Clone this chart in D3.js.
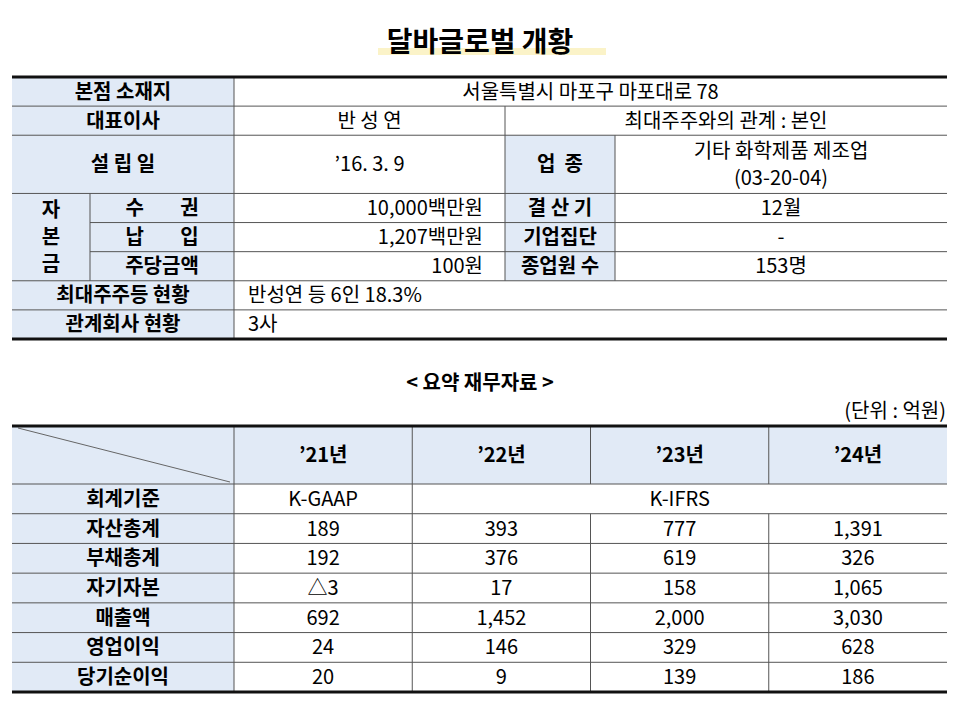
<!DOCTYPE html>
<html><head><meta charset="utf-8">
<script src="https://cdn.jsdelivr.net/npm/d3@7"></script>
<style>body{margin:0;background:#fff}svg{font-family:"Noto Sans CJK KR","Noto Sans",sans-serif}</style>
</head><body><div id="chart"></div>
<script>
const title = '달바글로벌 개황'
const subTitle = '< 요약 재무자료 >'
const unitText = '(단위 : 억원)'

// overview table: [label, value] rows
const addressRow = ['본점 소재지', '서울특별시 마포구 마포대로 78']
const ceoRow = ['대표이사', '반 성 연', '최대주주와의 관계 : 본인']
const foundRow = ['설 립 일', '’16. 3. 9', '업  종', ['기타 화학제품 제조업', '(03-20-04)']]
const capitalLabels = ['수        권', '납        입', '주당금액']
const capitalValues = ['10,000백만원', '1,207백만원', '100원']
const sideLabels = ['결 산 기', '기업집단', '종업원 수']
const sideValues = ['12월', '-', '153명']
const holderRow = ['최대주주등 현황', '반성연 등 6인 18.3%']
const affilRow = ['관계회사 현황', '3사']

// finance table
const years = ['’21년', '’22년', '’23년', '’24년']
const standards = ['K-GAAP', 'K-IFRS']
const finLabels = ['자산총계', '부채총계', '자기자본', '매출액', '영업이익', '당기순이익']
const finValues = [
  ['189', '393', '777', '1,391'],
  ['192', '376', '619', '326'],
  ['△3', '17', '158', '1,065'],
  ['692', '1,452', '2,000', '3,030'],
  ['24', '146', '329', '628'],
  ['20', '9', '139', '186']
]

const W = 960, H = 703, fill = '#e1eaf6', grid = '#555'
const svg = d3.select('#chart').append('svg').attr('width', W).attr('height', H)

// title
svg.append('rect').attr('x', 378).attr('y', 48).attr('width', 228).attr('height', 7).attr('fill', '#fbf3c8')
svg.append('text').attr('x', 480).attr('y', 52).attr('text-anchor', 'middle')
  .attr('font-size', 28).attr('font-weight', 'bold').text(title)

function cell (g, x0, x1, y0, y1, txt, opt = {}) {
  if (opt.fill) g.append('rect').attr('x', x0).attr('y', y0).attr('width', x1 - x0).attr('height', y1 - y0).attr('fill', opt.fill)
  const lines = Array.isArray(txt) ? txt : [txt]
  const anchor = opt.align || 'middle'
  const tx = anchor === 'middle' ? (x0 + x1) / 2 : anchor === 'end' ? x1 - 22 : x0 + 14
  const lh = 27
  lines.forEach((t, i) => {
    g.append('text').attr('x', tx)
      .attr('y', (y0 + y1) / 2 + (i - (lines.length - 1) / 2) * lh + 7)
      .attr('text-anchor', anchor).attr('font-size', 20)
      .attr('font-weight', opt.bold ? 'bold' : 'normal')
      .style('white-space', 'pre').text(t)
  })
}
function hline (g, x0, x1, y, w = 1) { g.append('line').attr('x1', x0).attr('x2', x1).attr('y1', y).attr('y2', y).attr('stroke', w > 1 ? '#111' : grid).attr('stroke-width', w) }
function vline (g, x, y0, y1) { g.append('line').attr('x1', x).attr('x2', x).attr('y1', y0).attr('y2', y1).attr('stroke', grid).attr('stroke-width', 1) }

// ---- table 1
const t1 = svg.append('g')
const y1 = d3.scaleLinear().domain([0, 9]).range([77, 339])
const cx = { l: 12, sub: 90, lab: 234, mid: 505, side: 615, r: 947 }
// row units: address 0-1, ceo 1-2, found 2-4, capital 4-7, holder 7-8, affil 8-9
cell(t1, cx.l, cx.lab, y1(0), y1(1), addressRow[0], { fill, bold: true })
cell(t1, cx.lab, cx.r, y1(0), y1(1), addressRow[1])
cell(t1, cx.l, cx.lab, y1(1), y1(2), ceoRow[0], { fill, bold: true })
cell(t1, cx.lab, cx.mid, y1(1), y1(2), ceoRow[1])
cell(t1, cx.mid, cx.r, y1(1), y1(2), ceoRow[2])
cell(t1, cx.l, cx.lab, y1(2), y1(4), foundRow[0], { fill, bold: true })
cell(t1, cx.lab, cx.mid, y1(2), y1(4), foundRow[1])
cell(t1, cx.mid, cx.side, y1(2), y1(4), foundRow[2], { fill, bold: true })
cell(t1, cx.side, cx.r, y1(2), y1(4), foundRow[3])
cell(t1, cx.l, cx.sub, y1(4), y1(7), ['자', '본', '금'], { fill, bold: true })
capitalLabels.forEach((t, i) => {
  cell(t1, cx.sub, cx.lab, y1(4 + i), y1(5 + i), t, { fill, bold: true })
  cell(t1, cx.lab, cx.mid, y1(4 + i), y1(5 + i), capitalValues[i], { align: 'end' })
  cell(t1, cx.mid, cx.side, y1(4 + i), y1(5 + i), sideLabels[i], { fill, bold: true })
  cell(t1, cx.side, cx.r, y1(4 + i), y1(5 + i), sideValues[i])
})
cell(t1, cx.l, cx.lab, y1(7), y1(8), holderRow[0], { fill, bold: true })
cell(t1, cx.lab, cx.r, y1(7), y1(8), holderRow[1], { align: 'start' })
cell(t1, cx.l, cx.lab, y1(8), y1(9), affilRow[0], { fill, bold: true })
cell(t1, cx.lab, cx.r, y1(8), y1(9), affilRow[1], { align: 'start' })
;[1, 2, 4, 7, 8].forEach(u => hline(t1, cx.l, cx.r, y1(u)))
;[5, 6].forEach(u => hline(t1, cx.sub, cx.r, y1(u)))
vline(t1, cx.lab, y1(0), y1(9))
vline(t1, cx.mid, y1(1), y1(7))
vline(t1, cx.side, y1(2), y1(7))
vline(t1, cx.sub, y1(4), y1(7))
hline(t1, cx.l, cx.r, y1(0), 3)
hline(t1, cx.l, cx.r, y1(9), 3)

// ---- subtitle
svg.append('text').attr('x', 480).attr('y', 390).attr('text-anchor', 'middle')
  .attr('font-size', 20).attr('font-weight', 'bold').style('white-space', 'pre').text(subTitle)
svg.append('text').attr('x', 946).attr('y', 418).attr('text-anchor', 'end')
  .attr('font-size', 20).text(unitText)

// ---- table 2
const t2 = svg.append('g')
const xc = d3.scaleLinear().domain([0, 4]).range([234, 947])
const topY = 426, headB = 484
const yr = d3.scaleLinear().domain([0, 7]).range([headB, 692])
cell(t2, 12, xc(0), topY, headB, '', { fill })
years.forEach((y, i) => cell(t2, xc(i), xc(i + 1), topY, headB, y, { fill, bold: true }))
t2.append('line').attr('x1', 18).attr('y1', topY + 2).attr('x2', xc(0) - 4).attr('y2', headB - 2).attr('stroke', '#666')
cell(t2, 12, xc(0), yr(0), yr(1), '회계기준', { fill, bold: true })
cell(t2, xc(0), xc(1), yr(0), yr(1), standards[0])
cell(t2, xc(1), xc(4), yr(0), yr(1), standards[1])
finLabels.forEach((l, r) => {
  cell(t2, 12, xc(0), yr(r + 1), yr(r + 2), l, { fill, bold: true })
  finValues[r].forEach((v, c) => cell(t2, xc(c), xc(c + 1), yr(r + 1), yr(r + 2), v))
})
hline(t2, 12, 947, headB)
d3.range(1, 7).forEach(u => hline(t2, 12, 947, yr(u)))
vline(t2, xc(0), topY, 692)
vline(t2, xc(1), topY, 692)
;[2, 3].forEach(c => { vline(t2, xc(c), topY, headB); vline(t2, xc(c), yr(1), 692) })
hline(t2, 12, 947, topY, 3)
hline(t2, 12, 947, 692, 3)
</script></body></html>
